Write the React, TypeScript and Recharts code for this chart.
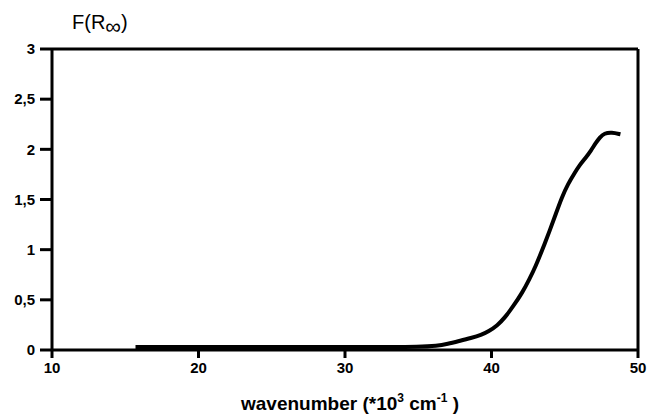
import React from 'react';
import { LineChart, Line, XAxis, YAxis, ReferenceLine } from 'recharts';

const wavenumber = [15.7, 20, 25, 30, 33, 35, 36.3, 37, 37.8, 38.6, 39.3, 39.8, 40.4, 40.9, 41.5, 42.1, 42.6, 43.0, 43.5, 44.0, 44.4, 44.8, 45.2, 45.7, 46.0, 46.4, 46.8, 47.1, 47.4, 47.7, 48.2, 48.8];
const fR = [0.03, 0.03, 0.03, 0.03, 0.03, 0.03, 0.04, 0.06, 0.09, 0.12, 0.15, 0.185, 0.245, 0.32, 0.44, 0.57, 0.71, 0.83, 1.01, 1.2, 1.36, 1.52, 1.65, 1.77, 1.84, 1.91, 1.99, 2.06, 2.12, 2.16, 2.17, 2.15];
const xTicks = [10, 20, 30, 40, 50];
const yTicks = [0, 0.5, 1, 1.5, 2, 2.5, 3];

const data = wavenumber.map((x, i) => ({ x, y: fR[i] }));

const FONT = 'Liberation Sans, Arial, sans-serif';
const tickStyle = { fontFamily: FONT, fontWeight: 700, fontSize: 15, fill: '#000' };

const YLabel = (props: any) => {
  const vb = props.viewBox || { x: 0, y: 0 };
  return (
    <text x={vb.x + 72} y={vb.y - 20} fontFamily={FONT} fontSize={20} fill="#000">
      F(R<tspan dy={5} fontSize={22}>∞</tspan><tspan dy={-5}>)</tspan>
    </text>
  );
};

const XLabel = (props: any) => {
  const vb = props.viewBox || { x: 0, y: 0, width: 0 };
  return (
    <text x={vb.x + vb.width / 2 + 5} y={vb.y + 60} textAnchor="middle" fontFamily={FONT} fontWeight={700} fontSize={19} fill="#000">
      wavenumber (*10<tspan dy={-8} fontSize={12}>3</tspan><tspan dy={8}> cm</tspan><tspan dy={-8} fontSize={12}>-1</tspan><tspan dy={8}> )</tspan>
    </text>
  );
};

export default function App() {
  return (
    <div style={{ position: 'absolute', left: 0, top: 0, background: '#fff' }}>
      <LineChart width={648} height={420} data={data} margin={{ top: 49, right: 10, left: 0, bottom: 40 }}>
        <XAxis
          dataKey="x"
          type="number"
          domain={[10, 50]}
          ticks={xTicks}
          tickSize={8}
          tickMargin={4}
          axisLine={{ stroke: '#000', strokeWidth: 3 }}
          tickLine={{ stroke: '#000', strokeWidth: 3 }}
          tick={tickStyle}
          height={30}
          label={<XLabel />}
        />
        <YAxis
          type="number"
          domain={[0, 3]}
          ticks={yTicks}
          tickSize={12}
          tickMargin={5}
          width={52}
          tickFormatter={(v: number) => String(v).replace('.', ',')}
          axisLine={{ stroke: '#000', strokeWidth: 3 }}
          tickLine={{ stroke: '#000', strokeWidth: 3 }}
          tick={tickStyle}
          label={<YLabel />}
        />
        <ReferenceLine y={3} stroke="#000" strokeWidth={3} />
        <ReferenceLine x={50} stroke="#000" strokeWidth={3} />
        <Line type="basis" dataKey="y" stroke="#000" strokeWidth={4} dot={false} isAnimationActive={false} />
      </LineChart>
    </div>
  );
}
